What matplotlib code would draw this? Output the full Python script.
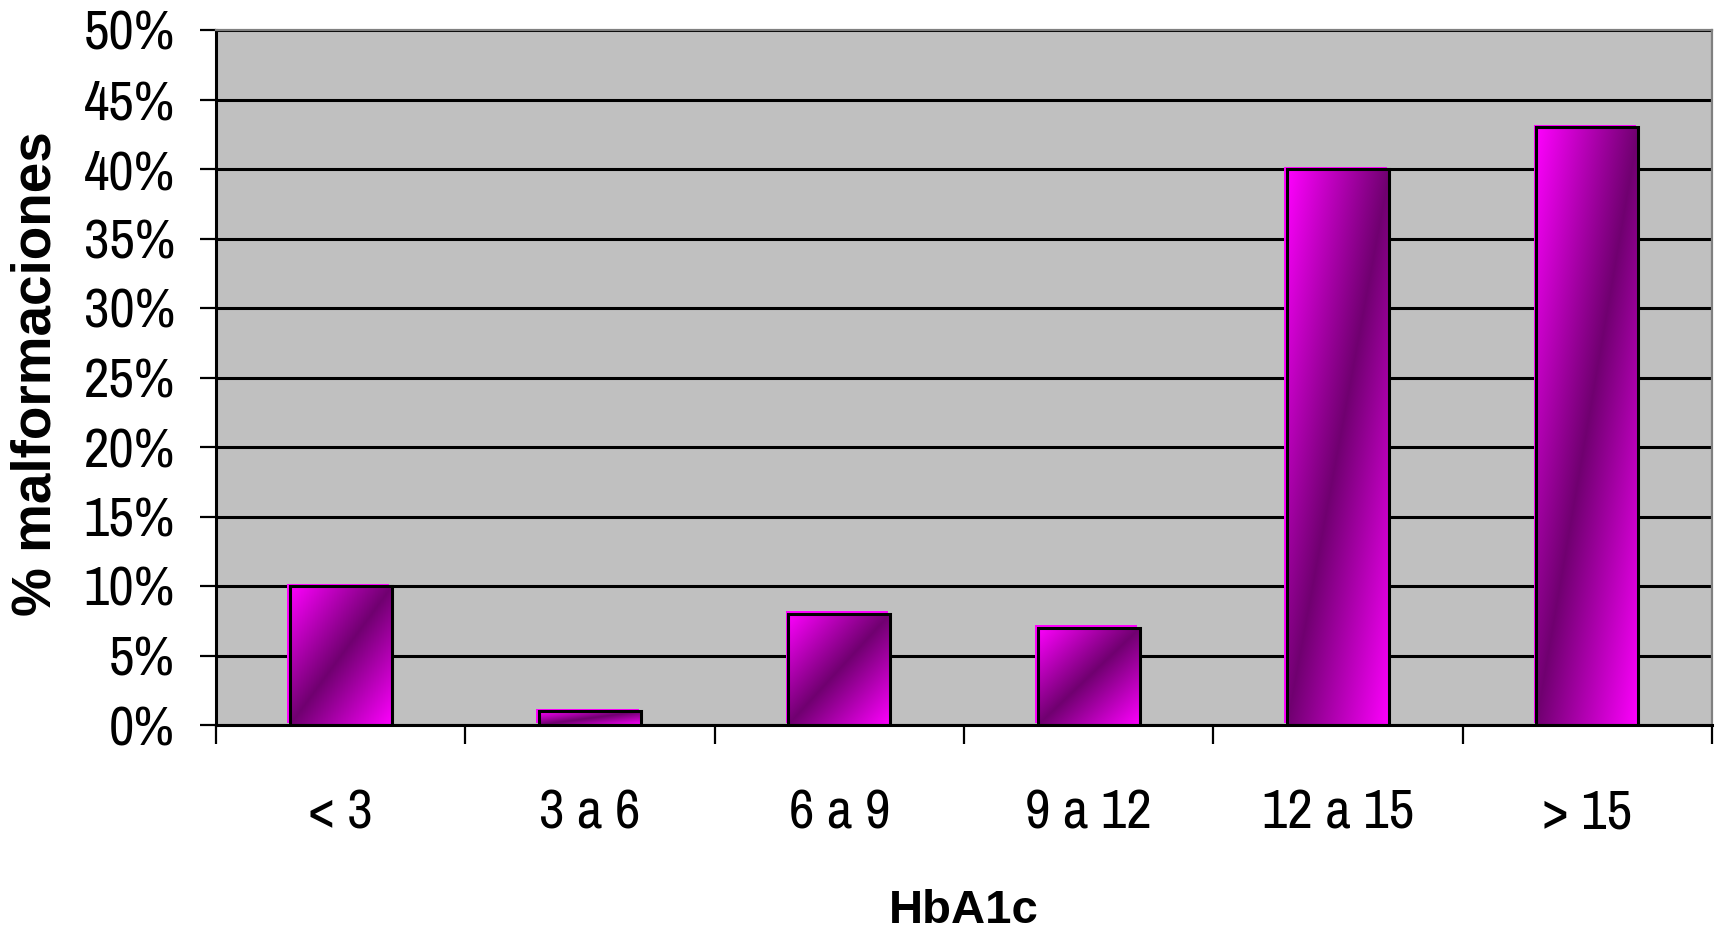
import numpy as np
import matplotlib
matplotlib.use("Agg")
import matplotlib.pyplot as plt
from matplotlib.ticker import FuncFormatter, MultipleLocator
from matplotlib.transforms import ScaledTranslation

# HbA1c ranges and % of malformations for each
categories = ["< 3", "3 a 6", "6 a 9", "9 a 12", "12 a 15", "> 15"]
values = [10, 1, 8, 7, 40, 43]

MAGENTA = np.array([1.0, 0.0, 1.0])
DARK = np.array([0.44, 0.0, 0.44])
NARROW = ["Archivo Narrow", "Liberation Sans"]


def gradient_fill(ax, bar, n=200):
    # diagonal shading: magenta corners (top-left, bottom-right), dark band in between
    x0, y0 = bar.get_x(), bar.get_y()
    w, h = bar.get_width(), bar.get_height()
    u = np.linspace(0, 1, n)[None, :]
    v = np.linspace(0, 1, n)[:, None]
    t = np.abs(u + v - 1.0)
    img = DARK + t[..., None] * (MAGENTA - DARK)
    ax.imshow(img, extent=(x0, x0 + w, y0, y0 + h), origin="upper",
              aspect="auto", interpolation="bilinear", zorder=2)


fig = plt.figure(figsize=(17.19, 9.33), dpi=100)
ax = fig.add_axes([216 / 1719, 1 - 725 / 933, 1496 / 1719, 695 / 933])
ax.set_facecolor("#c0c0c0")

x = np.arange(len(categories))

# thin magenta rim peeking out at the top-left of each bar
rim = ax.bar(x, values, width=0.41, color="magenta", linewidth=0, zorder=1.9)
shift = ScaledTranslation(-2.5 / 100, 2.5 / 100, fig.dpi_scale_trans)
for r in rim:
    r.set_transform(ax.transData + shift)

bars = ax.bar(x, values, width=0.41, facecolor="none", edgecolor="black",
              linewidth=2.2, zorder=3)
for b in bars:
    gradient_fill(ax, b)

ax.set_xlim(-0.5, len(categories) - 0.5)
ax.set_ylim(0, 50)

ax.yaxis.set_major_locator(MultipleLocator(5))
ax.yaxis.set_major_formatter(FuncFormatter(lambda v, p: f"{v:.0f}%"))
ax.grid(axis="y", color="black", linewidth=2.2)
ax.set_axisbelow(True)

ax.set_xticks(x)
ax.set_xticklabels(categories)
ax.set_xticks(np.arange(-0.5, len(categories)), minor=True)
ax.tick_params(axis="x", which="major", length=0, pad=46)
ax.tick_params(axis="x", which="minor", length=14, width=1.6, direction="out")
ax.tick_params(axis="y", length=11.5, width=1.6, pad=18)

for lab in ax.get_xticklabels() + ax.get_yticklabels():
    lab.set_family(NARROW)
    lab.set_fontsize(40)

for side in ("left", "bottom"):
    ax.spines[side].set_color("black")
    ax.spines[side].set_linewidth(2.2)
for side in ("top", "right"):
    ax.spines[side].set_color("#808080")
    ax.spines[side].set_linewidth(1.6)

ax.set_ylabel("% malformaciones", fontsize=39.5, fontweight="bold",
              family="Liberation Sans", va="center")
ax.yaxis.set_label_coords(-0.1203, 0.505)
ax.set_xlabel("HbA1c", fontsize=34, fontweight="bold",
              family="Liberation Sans", va="center")
ax.xaxis.set_label_coords(0.5, -0.268)

fig.savefig("out.png", dpi=100)
